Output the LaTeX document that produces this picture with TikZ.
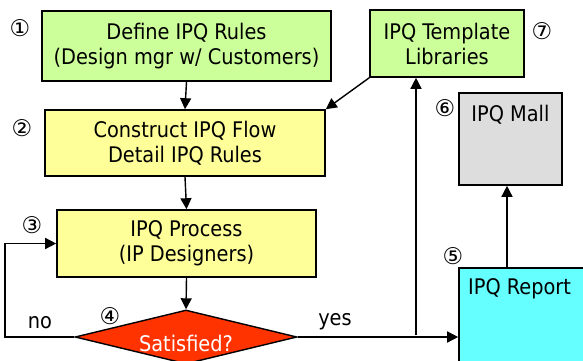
\documentclass[tikz,border=0pt]{standalone}
\usepackage{fontspec}
\setmainfont{DejaVu Sans Condensed}
\newfontfamily\symfont{DejaVu Sans}
\usetikzlibrary{shapes.geometric,arrows.meta}
\definecolor{boxgreen}{RGB}{204,255,153}
\definecolor{boxyellow}{RGB}{255,255,153}
\definecolor{boxgray}{RGB}{221,221,221}
\definecolor{boxcyan}{RGB}{102,255,255}
\definecolor{decred}{RGB}{255,51,0}
\tikzset{
  box/.style={draw=black, line width=1.6pt, rectangle, align=center, inner sep=0pt,
    font=\fontsize{21.5}{25}\selectfont},
  tagnum/.style={font=\symfont\fontsize{23}{23}\selectfont, inner sep=0pt},
  lbl/.style={font=\fontsize{21.5}{25}\selectfont, inner sep=0pt},
  flow/.style={line width=1.4pt, -{Triangle[length=11pt,width=11pt]}},
}
\begin{document}
\begin{tikzpicture}[x=1pt,y=-1pt]
\useasboundingbox (0,0) rectangle (583,361);
\clip (0,0) rectangle (583,361);
% process boxes
\node[box, fill=boxgreen, minimum width=289pt, minimum height=70pt] (rules) at (186.5,46) {Define IPQ Rules\\(Design mgr w/ Customers)};
\node[box, fill=boxgreen, minimum width=154pt, minimum height=67pt] (tmpl) at (447,43.5) {IPQ Template\\Libraries};
\node[box, fill=boxyellow, minimum width=280pt, minimum height=66pt] (flow) at (185,143) {Construct IPQ Flow\\Detail IPQ Rules};
\node[box, fill=boxgray, minimum width=103pt, minimum height=92pt] (mall) at (510.5,139) {};
\node[lbl] (malltxt) at (510.5,115) {IPQ Mall};
\node[box, fill=boxyellow, minimum width=259pt, minimum height=67pt] (proc) at (186.5,243.5) {IPQ Process\\(IP Designers)};
\node[box, fill=boxcyan, minimum width=142pt, minimum height=104pt] (report) at (530,320) {};
\node[lbl, anchor=west] (reporttxt) at (468,289) {IPQ Report};
% decision
\node[draw=black, line width=1.4pt, fill=decred, diamond, aspect=4.1, minimum width=222pt, minimum height=54pt, inner sep=0pt] (sat) at (186,337) {};
\node[lbl, text=white] (sattxt) at (186,343) {Satisfied?};
% step numbers
\node[tagnum] (n1) at (20,28) {①};
\node[tagnum] (n2) at (22,128) {②};
\node[tagnum] (n3) at (32,225) {③};
\node[tagnum] (n4) at (110,316) {④};
\node[tagnum] (n5) at (453,256) {⑤};
\node[tagnum] (n6) at (445,108) {⑥};
\node[tagnum] (n7) at (542,31) {⑦};
% connectors
\draw[flow] (rules.south) -- (flow.north);
\draw[flow] (tmpl.south west) -- (flow.north east);
\draw[flow] (flow.south) -- (proc.south |- proc.north);
\draw[flow] (proc.south) -- (sat.north);
\coordinate (loopL) at (5,337);
\draw[flow] (sat.west) -- (loopL) |- (proc.west);
\draw[flow] (sat.east) -- (report.west |- sat.east);
\coordinate (tapY) at (416,335);
\draw[flow] (tapY) -- (tapY |- tmpl.south);
\draw[flow] (report.north -| 507,0) -- (mall.south -| 507,0);
\node[lbl] (no) at (40,323) {no};
\node[lbl] (yes) at (335,322) {yes};
\end{tikzpicture}
\end{document}
